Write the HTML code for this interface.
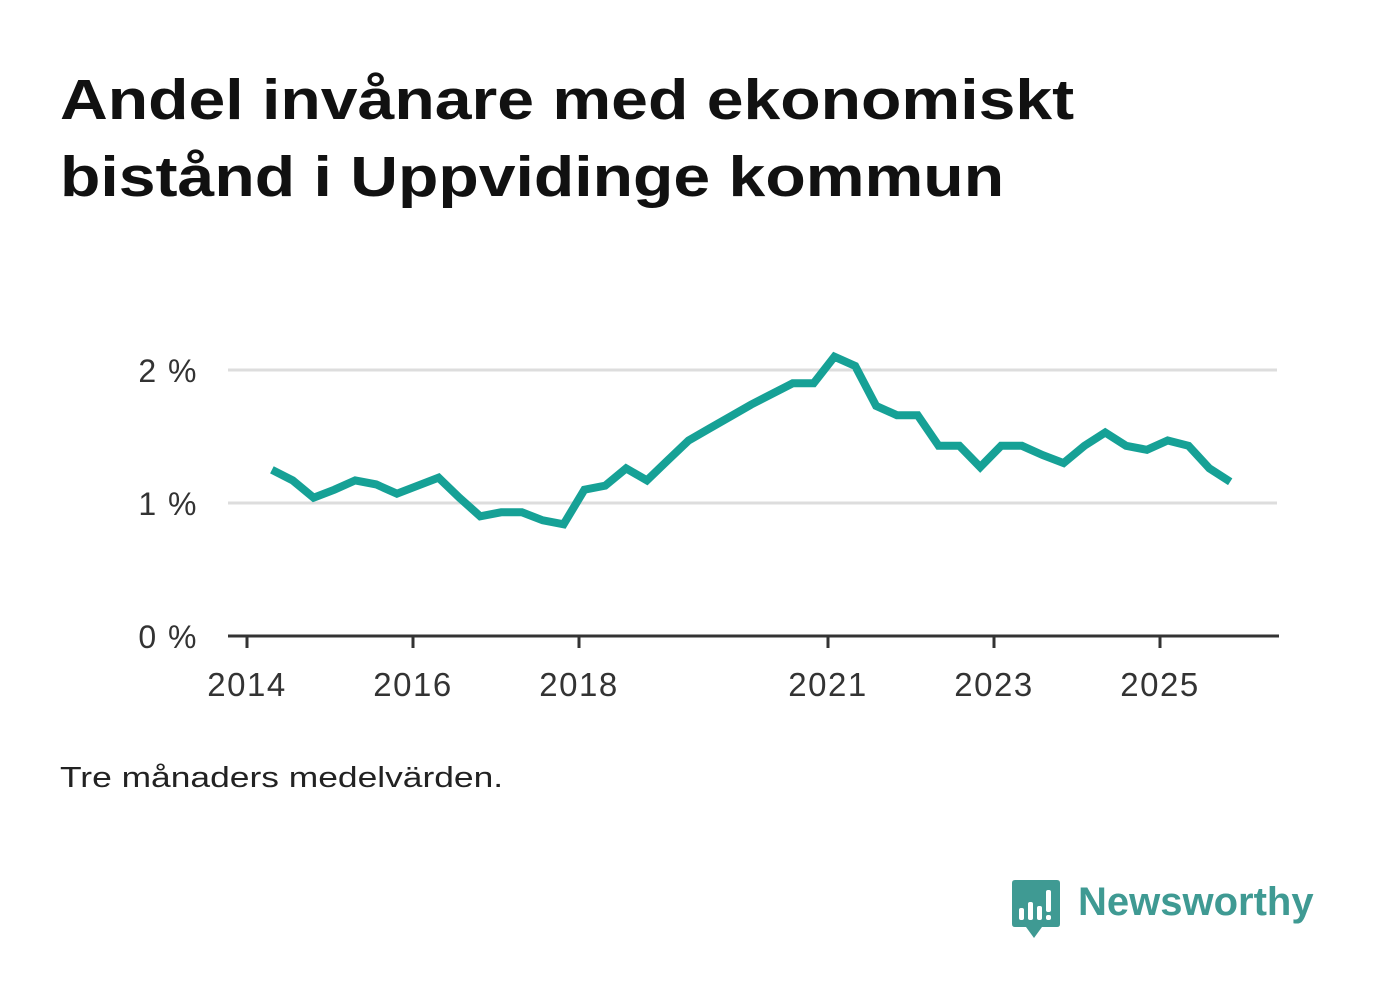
<!DOCTYPE html>
<html><head><meta charset="utf-8"><style>
body{margin:0;width:1382px;height:999px;background:#fff;font-family:"Liberation Sans",sans-serif;overflow:hidden}
h1{position:absolute;left:60px;top:62px;margin:0;font-size:57px;line-height:77px;font-weight:bold;color:#111;transform:scaleX(1.16);transform-origin:0 0;white-space:nowrap}
.note{position:absolute;left:60px;top:762px;font-size:29px;color:#222;transform:scaleX(1.22);transform-origin:0 0;white-space:nowrap}
</style></head><body>
<h1>Andel invånare med ekonomiskt<br>bistånd i Uppvidinge kommun</h1>
<svg id="chart" width="1382" height="999" style="position:absolute;left:0;top:0"></svg>
<div class="note">Tre månaders medelvärden.</div>
<div style="position:absolute;left:1012px;top:880px;">
<svg width="50" height="60" style="position:absolute;left:0;top:0"><path d="M3 0H45Q48 0 48 3V44Q48 47 45 47H30L22 58L14 47H3Q0 47 0 44V3Q0 0 3 0Z" fill="#3f9a93"/><rect x="7" y="28" width="5" height="12" rx="2" fill="#fff"/><rect x="16" y="22" width="5" height="18" rx="2" fill="#fff"/><rect x="25" y="26" width="5" height="14" rx="2" fill="#fff"/><rect x="34" y="10" width="5" height="22" rx="2" fill="#fff"/><rect x="34" y="35" width="5" height="5" rx="2" fill="#fff"/></svg>
<span style="position:absolute;left:66px;top:0px;font-size:40px;font-weight:bold;color:#3f9a93;white-space:nowrap">Newsworthy</span>
</div>
<script>
const values=[1.25,1.17,1.04,1.10,1.17,1.14,1.07,1.13,1.19,1.04,0.90,0.93,0.93,0.87,0.84,1.10,1.13,1.26,1.17,1.32,1.47,1.56,1.65,1.74,1.82,1.90,1.90,2.10,2.03,1.73,1.66,1.66,1.43,1.43,1.27,1.43,1.43,1.36,1.30,1.43,1.53,1.43,1.40,1.47,1.43,1.26,1.16];
const startYear=2014.3;
const xTicks=[2014,2016,2018,2021,2023,2025];
const yTicks=[0,1,2];
const NS="http://www.w3.org/2000/svg";
const svg=document.getElementById('chart');
const x=v=>247+(v-2014)*83.0;
const y=v=>636-v*133;
function mk(t,a){const e=document.createElementNS(NS,t);for(const k in a)e.setAttribute(k,a[k]);svg.appendChild(e);return e;}
yTicks.forEach(t=>{
  if(t>0){const g=mk('line',{x1:228,x2:1277,y1:y(t),y2:y(t),stroke:'#ddd','stroke-width':3});
  
  }
  const l=mk('text',{x:198,y:y(t)+12,'text-anchor':'end','font-size':32,'letter-spacing':1.5,fill:'#333','font-family':'Liberation Sans, sans-serif'});
  l.textContent=t+' %';
  
  
});
const ax=mk('line',{x1:228,x2:1279,y1:636,y2:636,stroke:'#333','stroke-width':3});


xTicks.forEach(t=>{
  const tk=mk('line',{x1:x(t),x2:x(t),y1:636,y2:648,stroke:'#333','stroke-width':3});
  
  
  const l=mk('text',{x:x(t),y:696,'text-anchor':'middle','font-size':33,'letter-spacing':1.5,fill:'#333','font-family':'Liberation Sans, sans-serif'});
  l.textContent=t;
  
  
});
const pts=values.map((v,i)=>x(startYear+i*0.251).toFixed(1)+','+y(v).toFixed(1)).join(' ');
const line=mk('polyline',{points:pts,fill:'none',stroke:'#16a196','stroke-width':8,'stroke-linejoin':'miter'});


</script>
</body></html>
